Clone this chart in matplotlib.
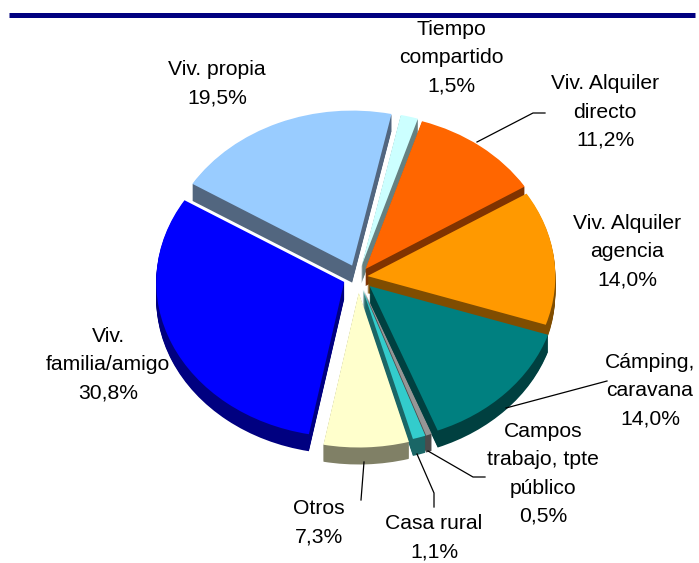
import matplotlib
matplotlib.use("Agg")
import matplotlib.pyplot as plt
from matplotlib.lines import Line2D

plt.rcParams['font.family'] = ['Liberation Sans', 'DejaVu Sans']

# === Data ===
categorias = ["Tiempo\ncompartido", "Viv. Alquiler\ndirecto", "Viv. Alquiler\nagencia",
              "Cámping,\ncaravana", "Campos\ntrabajo, tpte\npúblico", "Casa rural",
              "Otros", "Viv.\nfamilia/amigo", "Viv. propia"]
valores = [1.5, 11.2, 14.0, 14.0, 0.5, 1.1, 7.3, 30.8, 19.5]
etiquetas = ["1,5%", "11,2%", "14,0%", "14,0%", "0,5%", "1,1%", "7,3%", "30,8%", "19,5%"]
colores = ['#CCFFFF', '#FF6600', '#FF9900', '#008080', '#969696',
           '#33CCCC', '#FFFFCC', '#0000FF', '#99CCFF']
laterales = ['#668080', '#803300', '#804D00', '#004040', '#4B4B4B',
             '#1A6666', '#808066', '#000080', '#52667F']
explode = [0.07, 0.065, 0.05, 0.085, 0.085, 0.085, 0.1, 0.08, 0.08]
# back to front, so a slice's side wall can sit over the slices behind it
orden = [0, 8, 1, 2, 7, 3, 4, 5, 6]

W, H = 699, 563
CX, CY, RX, RY = 358, 277, 188, 155
PROF = 17


def px(x, y):
    return x / W, 1 - y / H


fig = plt.figure(figsize=(W / 100, H / 100), dpi=100)
ax = fig.add_axes([0, 0, 1, 1])

# === Pie: stacked layers for the wall, then the top face ===
for d in range(PROF, -1, -1):
    wedges, _ = ax.pie(valores, explode=explode, startangle=77.9, counterclock=False,
                       center=(0, -d / RY), radius=1, frame=True, normalize=True)
    for i, w in enumerate(wedges):
        w.set_facecolor(colores[i] if d == 0 else laterales[i])
        w.set_edgecolor('none')
        w.set_zorder(10 + orden.index(i) * 100 + (PROF - d))

ax.set_aspect('auto')
ax.set_xlim(-CX / RX, (W - CX) / RX)
ax.set_ylim((CY - H) / RY, CY / RY)
ax.axis('off')

# === Top rule ===
fig.add_artist(Line2D([9 / W, 695 / W], [1 - 14.5 / H] * 2, color='#000080', lw=3.6,
                      solid_capstyle='butt'))

# === Labels ===
posiciones = [(451, 58), (605, 112), (627, 252), (650, 391), (543, 474),
              (434, 538), (319, 523), (108, 365), (217, 84)]
for nombre, etiqueta, (x, y) in zip(categorias, etiquetas, posiciones):
    fx, fy = px(x, y)
    fig.text(fx, fy, f"{nombre}\n{etiqueta}", ha='center', va='center',
             fontsize=15.2, color='black', linespacing=1.62, zorder=5000)

# === Leader lines ===
lineas = [
    [(477, 142), (533, 113), (545, 113)],
    [(506, 408), (607, 381)],
    [(428, 451), (473, 477), (485, 477)],
    [(417, 454), (434, 493), (434, 507)],
    [(364, 462), (361, 500)],
]
for puntos in lineas:
    xs = [p[0] / W for p in puntos]
    ys = [1 - p[1] / H for p in puntos]
    fig.add_artist(Line2D(xs, ys, color='black', lw=0.9))

fig.savefig("out.png", dpi=100)
